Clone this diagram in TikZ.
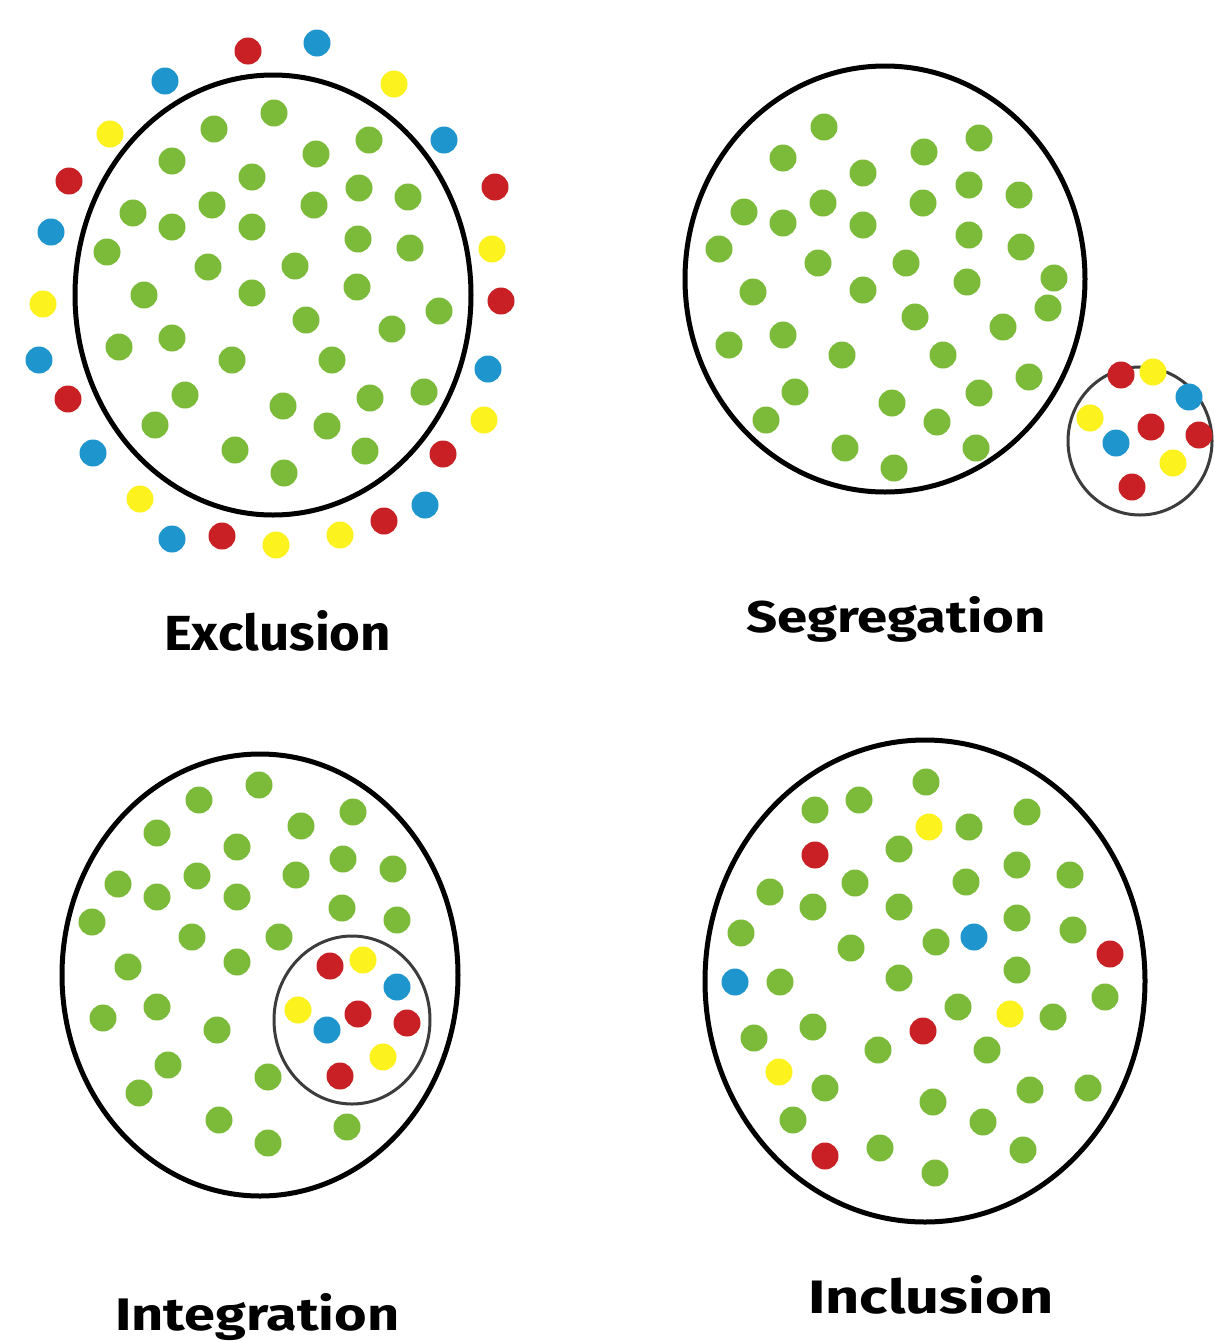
\documentclass[tikz,border=0pt]{standalone}
\usepackage{fontspec}
\setmainfont{Fira Sans}
\definecolor{dgreen}{RGB}{124,186,58}
\definecolor{dred}{RGB}{200,32,36}
\definecolor{dblue}{RGB}{30,150,205}
\definecolor{dyellow}{RGB}{252,242,30}
\definecolor{ringgray}{RGB}{60,60,60}
\tikzset{
  bigring/.style={draw=black,line width=5pt},
  smallring/.style={draw=ringgray,line width=3pt},
  lbl/.style={anchor=base west,inner sep=0pt,font=\fontsize{50}{50}\selectfont\bfseries},
}
\newcommand{\dotset}[2]{\foreach \px/\py in {#2} \fill[#1] (\px,\py) circle (13.5);}
\begin{document}
\begin{tikzpicture}[x=1pt,y=-1pt]
\useasboundingbox (0,0) rectangle (1215,1342);
\fill[white] (0,0) rectangle (1215,1342);

% ---------------- Exclusion ----------------
\draw[bigring] (273,295) ellipse (198 and 220);
\dotset{dgreen}{274/113,214/129,369/140,172/161,316/154,252/177,359/188,408/197,133/213,212/205,314/205,172/227,252/227,358/239,410/248,107/252,208/267,295/266,357/287,144/295,252/293,439/311,306/320,392/329,119/347,172/338,232/360,332/360,185/395,370/398,424/392,283/406,155/425,327/426,235/450,365/451,284/473}
\dotset{dred}{248/51,69/181,495/187,501/301,68/399,443/454,384/521,222/536}
\dotset{dblue}{317/43,165/81,444/140,51/232,39/360,488/369,93/453,425/505,172/539}
\dotset{dyellow}{394/84,110/134,492/249,43/304,484/420,140/499,340/535,276/545}
\node[lbl] (exclusion) at (164,650) {\resizebox{227pt}{40pt}{Exclusion}};

% ---------------- Segregation ----------------
\draw[bigring] (885,279) ellipse (200 and 213);
\dotset{dgreen}{824/127,783/158,924/152,979/138,863/173,969/185,1019/195,744/212,823/203,783/223,863/225,923/203,969/235,1021/247,719/249,818/263,906/263,1054/278,753/292,863/290,967/282,1048/308,915/317,1003/327,729/345,783/335,842/355,943/355,1029/377,795/392,892/403,979/393,766/420,937/422,845/448,976/448,894/468}
\draw[smallring] (1140,441) ellipse (72 and 74);
\dotset{dred}{1121/375,1151/427,1199/435,1132/487}
\dotset{dyellow}{1153/372,1090/418,1173/463}
\dotset{dblue}{1189/397,1116/443}
\node[lbl] (segregation) at (746,632) {\resizebox{300pt}{36pt}{Segregation}};

% ---------------- Integration ----------------
\draw[bigring] (260,975) ellipse (198 and 221);
\dotset{dgreen}{259/785,199/800,353/812,157/833,301/826,237/847,343/859,393/869,118/884,197/876,157/897,237/897,296/875,342/908,397/920,92/922,192/937,279/937,128/967,237/962,103/1018,157/1007,217/1030,168/1065,268/1077,139/1093,219/1120,268/1143,347/1127}
\draw[smallring] (352,1020) ellipse (78 and 84);
\dotset{dred}{330/966,358/1014,407/1023,340/1076}
\dotset{dyellow}{363/960,298/1010,383/1057}
\dotset{dblue}{397/987,327/1030}
\node[lbl] (integration) at (115,1330) {\resizebox{284pt}{37pt}{Integration}};

% ---------------- Inclusion ----------------
\draw[bigring] (925,981) ellipse (220 and 241);
\dotset{dgreen}{926/782,859/800,815/810,969/827,1027/812,899/849,1017/865,1070/875,855/883,966/882,770/892,813/907,899/907,1017/918,1073/930,741/933,851/948,936/942,1017/970,899/978,780/982,1105/997,958/1007,1053/1017,754/1038,813/1027,878/1050,987/1050,825/1088,933/1102,1030/1090,1088/1088,793/1120,983/1122,880/1148,1023/1150,935/1173}
\dotset{dred}{815/855,1110/954,923/1031,825/1156}
\dotset{dblue}{974/937,735/982}
\dotset{dyellow}{929/827,1010/1014,779/1072}
\node[lbl] (inclusion) at (808,1313) {\resizebox{246pt}{38pt}{Inclusion}};
\end{tikzpicture}
\end{document}
